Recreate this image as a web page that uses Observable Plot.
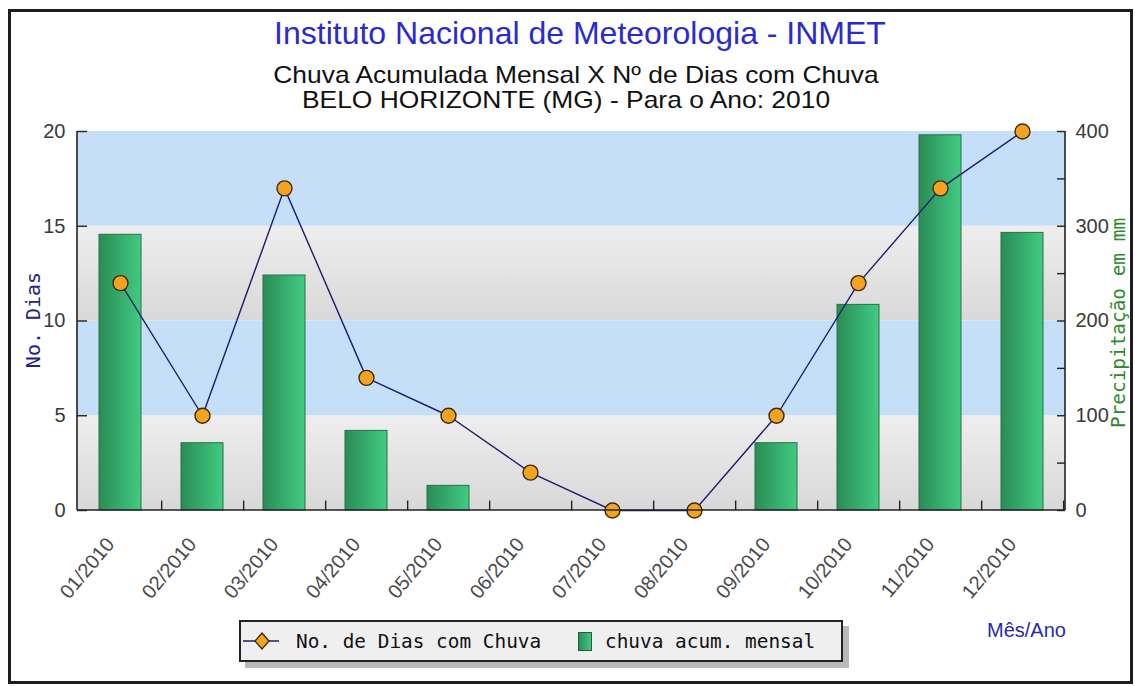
<!DOCTYPE html>
<html>
<head>
<meta charset="utf-8">
<script src="https://cdn.jsdelivr.net/npm/d3@7"></script>
<script src="https://cdn.jsdelivr.net/npm/@observablehq/plot@0.6"></script>
<style>
  html, body { margin: 0; padding: 0; background: #fff; }
  #wrap { position: relative; width: 1135px; height: 686px; overflow: hidden; font-family: "Liberation Sans", Arial, sans-serif; }
  #frame { position: absolute; left: 8px; top: 9px; width: 1125px; height: 675px; box-sizing: border-box; border: 3px solid #1e1e1e; }
  .ttl { position: absolute; white-space: nowrap; text-align: center; width: 1000px; line-height: 1; transform-origin: center center; }
  #t1 { left: 80px; top: 17px; font-size: 32px; color: #2a2ad0; }
  #t2 { left: 76px; top: 63px; font-size: 24px; color: #111; transform: scaleX(1.1); }
  #t3 { left: 66px; top: 88px; font-size: 24px; color: #111; transform: scaleX(1.1); }
  #chart { position: absolute; left: 0; top: 120px; }
  .ytitle { position: absolute; white-space: nowrap; font-family: "DejaVu Sans Mono", monospace; transform-origin: center center; }
  #yl { left: 33px; top: 320px; font-size: 20px; color: #22228a; transform: translate(-50%, -50%) rotate(-90deg); }
  #yr { left: 1118px; top: 323px; font-size: 19.4px; color: #2c8a2c; transform: translate(-50%, -50%) rotate(-90deg); }
  #legend { position: absolute; left: 239px; top: 620px; width: 604px; height: 42px; box-sizing: border-box; border: 2px solid #222; background: #efefef; box-shadow: 6px 6px 0 #b9b9b9; font-family: "DejaVu Sans Mono", monospace; font-size: 19.4px; color: #111; }
  #legend svg { position: absolute; left: 0; top: 0; }
  #legend .lt { position: absolute; top: 8px; white-space: nowrap; }
  #xlab { position: absolute; left: 987px; top: 619px; font-size: 20px; color: #2a2aa8; }
</style>
</head>
<body>
<div id="wrap">
  <div id="frame"></div>
  <div class="ttl" id="t1">Instituto Nacional de Meteorologia - INMET</div>
  <div class="ttl" id="t2">Chuva Acumulada Mensal X Nº de Dias com Chuva</div>
  <div class="ttl" id="t3">BELO HORIZONTE (MG) - Para o Ano: 2010</div>
  <div id="chart"></div>
  <div class="ytitle" id="yl">No. Dias</div>
  <div class="ytitle" id="yr">Precipitação em mm</div>
  <div id="legend">
    <svg width="290" height="40">
      <line x1="2" x2="38" y1="19" y2="19" stroke="#1d1d6e" stroke-width="1.5"></line>
      <path d="M21,11 L28,19 L21,27 L14,19 Z" fill="#f4a320" stroke="#3a2a10" stroke-width="1.3"></path>
    </svg>
    <span class="lt" style="left:55px">No. de Dias com Chuva</span>
    <div style="position:absolute;left:337px;top:10px;width:14px;height:19px;box-sizing:border-box;border:1.5px solid #1f5f3a;background:linear-gradient(to right,#2b8f57,#40c880);"></div>
    <span class="lt" style="left:364px">chuva acum. mensal</span>
  </div>
  <div id="xlab">Mês/Ano</div>
</div>
<script>
// ---- data ----
const months = ["01/2010","02/2010","03/2010","04/2010","05/2010","06/2010","07/2010","08/2010","09/2010","10/2010","11/2010","12/2010"];
const rainDays = [12, 5, 17, 7, 5, 2, 0, 0, 5, 12, 17, 20];
const rainMM = [291, 71, 248, 84, 26, 0, 0, 0, 71, 217, 396, 293];
const dayTicks = [0, 5, 10, 15, 20];
const mmTicks = [0, 50, 100, 150, 200, 250, 300, 350, 400];
const mmLabels = [0, 100, 200, 300, 400];
const bandLow = [0, 5, 10, 15];
const bandHigh = [5, 10, 15, 20];
const bandKind = ["gray", "blue", "gray", "blue"];

const MM_PER_DAY = 400 / 20; // right axis 0–400 mm aligned with left axis 0–20 days
const data = months.map((m, i) => ({month: m, days: rainDays[i], mm: rainMM[i]}));
const bands = bandLow.map((lo, i) => ({lo, hi: bandHigh[i], kind: bandKind[i]}));

const W = 1135, H = 490;
const mL = 77, mR = 70, mT = 11, mB = 100;
const frameW = W - mL - mR;
const step = frameW / months.length;

const defsMark = () => {
  const g = d3.create("svg:g");
  const defs = g.append("defs");
  const bg = defs.append("linearGradient").attr("id", "barGrad").attr("x1", "0").attr("x2", "1").attr("y1", "0").attr("y2", "0");
  bg.append("stop").attr("offset", "0%").attr("stop-color", "#2a8c55");
  bg.append("stop").attr("offset", "100%").attr("stop-color", "#41cb82");
  const gg = defs.append("linearGradient").attr("id", "grayGrad").attr("x1", "0").attr("x2", "0").attr("y1", "0").attr("y2", "1");
  gg.append("stop").attr("offset", "0%").attr("stop-color", "#eeeeee");
  gg.append("stop").attr("offset", "100%").attr("stop-color", "#d8d8d8");
  return g.node();
};

const frameLines = (index, scales, values, dims) => {
  const {width, height, marginLeft, marginRight, marginTop, marginBottom} = dims;
  const g = d3.create("svg:g").attr("stroke", "#222").attr("stroke-width", 1.6).attr("fill", "none");
  g.append("line").attr("x1", marginLeft).attr("x2", marginLeft).attr("y1", marginTop).attr("y2", height - marginBottom);
  g.append("line").attr("x1", width - marginRight).attr("x2", width - marginRight).attr("y1", marginTop).attr("y2", height - marginBottom);
  g.append("line").attr("x1", marginLeft).attr("x2", width - marginRight).attr("y1", height - marginBottom).attr("y2", height - marginBottom);
  return g.node();
};

const chart = Plot.plot({
  width: W, height: H,
  marginLeft: mL, marginRight: mR, marginTop: mT, marginBottom: mB,
  style: {background: "transparent", fontFamily: "Liberation Sans, Arial, sans-serif", fontSize: "20px", color: "#3a3a3a", overflow: "visible"},
  x: {type: "band", domain: months, paddingInner: 0.49, paddingOuter: 0.245, label: null},
  y: {domain: [0, 20], label: null},
  marks: [
    defsMark,
    Plot.rect(bands.filter(d => d.kind === "gray"), {y1: "lo", y2: "hi", fill: "url(#grayGrad)"}),
    Plot.rect(bands.filter(d => d.kind === "blue"), {y1: "lo", y2: "hi", fill: "#c5dff8"}),
    Plot.barY(data, {x: "month", y: d => d.mm / MM_PER_DAY, fill: "url(#barGrad)", stroke: "#2a7047", strokeWidth: 1}),
    Plot.line(data, {x: "month", y: "days", stroke: "#1d1d6e", strokeWidth: 1.4}),
    Plot.dot(data, {x: "month", y: "days", r: 7.5, fill: "#f4a320", stroke: "#3a2a10", strokeWidth: 1.4}),
    // inward tick marks
    Plot.ruleX(months, {x: d => d, dx: step / 2, y1: 0, y2: 0.5, stroke: "#222", strokeWidth: 1.4}),
    Plot.ruleY(dayTicks, {y: d => d, insetRight: frameW - 10, stroke: "#222", strokeWidth: 1.4}),
    Plot.ruleY(mmTicks, {y: d => d / MM_PER_DAY, insetLeft: frameW - 8, stroke: "#222", strokeWidth: 1.4}),
    frameLines,
    Plot.axisY({anchor: "left", ticks: dayTicks, tickSize: 0, tickPadding: 12, label: null, fill: "#3a3a3a"}),
    Plot.axisY({anchor: "right", ticks: mmLabels.map(v => v / MM_PER_DAY), tickFormat: v => String(Math.round(v * MM_PER_DAY)), tickSize: 0, tickPadding: 10, label: null, fill: "#3a3a3a"}),
    Plot.axisX({ticks: months, tickRotate: -50, tickSize: 0, tickPadding: 30, dx: -10, label: null, fill: "#4a4a4a"})
  ]
});
document.getElementById("chart").appendChild(chart);
</script>
</body>
</html>
